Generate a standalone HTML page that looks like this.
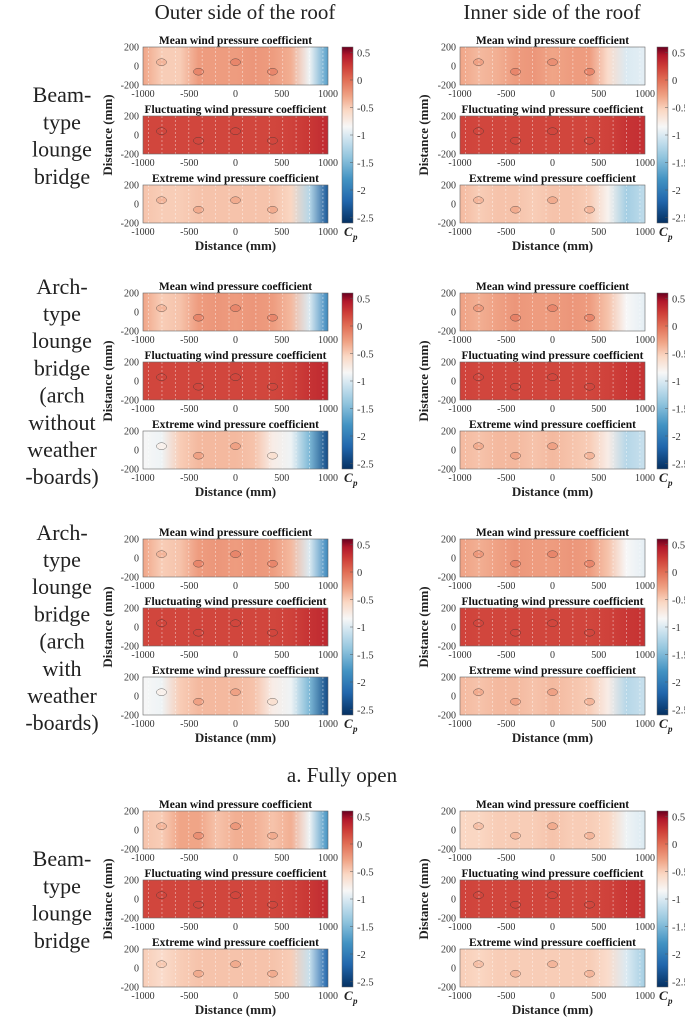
<!DOCTYPE html>
<html><head><meta charset="utf-8">
<style>
html,body{margin:0;padding:0;background:#fff;}
body{width:685px;height:1020px;overflow:hidden;position:relative;font-family:"Liberation Serif",serif;}
svg{position:absolute;left:0;top:0;}
</style></head>
<body>
<svg id="fig" width="685" height="1020" viewBox="0 0 685 1020" xmlns="http://www.w3.org/2000/svg"></svg>
<script>
// ---- data ----
const xTicks = [-1000,-500,0,500,1000];
const yTicks = [200,0,-200];
const cbTicks = [0.5,0,-0.5,-1,-1.5,-2,-2.5];
const sampleX = [-1000,-800,-600,-400,-200,0,200,400,600,800,1000];
const groupLabels = [
 ["Beam-","type","lounge","bridge"],
 ["Arch-","type","lounge","bridge","(arch","without","weather","-boards)"],
 ["Arch-","type","lounge","bridge","(arch","with","weather","-boards)"],
 ["Beam-","type","lounge","bridge"]
];
// outer side values
const g1OuterMean = [-0.3,-0.5,-0.5,-0.25,-0.25,-0.25,-0.22,-0.25,-0.35,-0.9,-1.7];
const g1OuterFluct = [0.2,0.2,0.2,0.2,0.2,0.2,0.2,0.2,0.22,0.28,0.35];
const g1OuterExt = [-0.45,-0.5,-0.5,-0.45,-0.45,-0.45,-0.45,-0.45,-0.55,-1.2,-2.3];
const g2OuterMean = [-0.3,-0.5,-0.45,-0.25,-0.22,-0.25,-0.22,-0.25,-0.4,-1.0,-1.9];
const g2OuterFluct = [0.2,0.2,0.2,0.2,0.2,0.2,0.2,0.2,0.22,0.3,0.36];
const g2OuterExt = [-0.85,-0.9,-0.5,-0.4,-0.4,-0.4,-0.45,-0.75,-0.9,-1.5,-2.4];
const g3OuterMean = [-0.3,-0.5,-0.45,-0.25,-0.22,-0.25,-0.22,-0.25,-0.4,-1.0,-1.9];
const g3OuterFluct = [0.2,0.2,0.2,0.2,0.2,0.2,0.2,0.2,0.22,0.3,0.36];
const g3OuterExt = [-0.85,-0.9,-0.5,-0.4,-0.4,-0.4,-0.45,-0.75,-0.9,-1.5,-2.4];
const g4OuterMean = [-0.45,-0.5,-0.3,-0.3,-0.45,-0.35,-0.35,-0.45,-0.35,-0.9,-1.8];
const g4OuterFluct = [0.2,0.2,0.2,0.2,0.2,0.2,0.2,0.2,0.22,0.28,0.35];
const g4OuterExt = [-0.5,-0.6,-0.5,-0.45,-0.45,-0.45,-0.45,-0.45,-0.5,-1.1,-2.2];
// inner side values
const g1InnerMean = [-0.3,-0.4,-0.35,-0.25,-0.22,-0.3,-0.25,-0.25,-0.6,-1.0,-0.95];
const g1InnerFluct = [0.22,0.2,0.2,0.2,0.2,0.2,0.2,0.2,0.22,0.3,0.32];
const g1InnerExt = [-0.4,-0.5,-0.45,-0.45,-0.5,-0.45,-0.45,-0.5,-0.8,-1.3,-1.15];
const g2InnerMean = [-0.28,-0.35,-0.28,-0.22,-0.25,-0.25,-0.22,-0.25,-0.45,-0.85,-0.95];
const g2InnerFluct = [0.22,0.2,0.2,0.2,0.2,0.2,0.2,0.2,0.22,0.28,0.3];
const g2InnerExt = [-0.4,-0.45,-0.4,-0.4,-0.45,-0.4,-0.45,-0.5,-0.75,-1.2,-1.1];
const g3InnerMean = [-0.28,-0.35,-0.28,-0.22,-0.25,-0.25,-0.22,-0.25,-0.45,-0.85,-0.95];
const g3InnerFluct = [0.22,0.2,0.2,0.2,0.2,0.2,0.2,0.2,0.22,0.28,0.3];
const g3InnerExt = [-0.4,-0.45,-0.4,-0.4,-0.45,-0.4,-0.45,-0.5,-0.75,-1.2,-1.1];
const g4InnerMean = [-0.55,-0.55,-0.5,-0.5,-0.5,-0.45,-0.5,-0.5,-0.55,-0.9,-1.0];
const g4InnerFluct = [0.22,0.2,0.2,0.2,0.2,0.2,0.2,0.2,0.22,0.28,0.3];
const g4InnerExt = [-0.5,-0.55,-0.5,-0.5,-0.5,-0.5,-0.5,-0.5,-0.6,-1.0,-1.3];

const outerSets = [[g1OuterMean,g1OuterFluct,g1OuterExt],[g2OuterMean,g2OuterFluct,g2OuterExt],[g3OuterMean,g3OuterFluct,g3OuterExt],[g4OuterMean,g4OuterFluct,g4OuterExt]];
const innerSets = [[g1InnerMean,g1InnerFluct,g1InnerExt],[g2InnerMean,g2InnerFluct,g2InnerExt],[g3InnerMean,g3InnerFluct,g3InnerExt],[g4InnerMean,g4InnerFluct,g4InnerExt]];
const panelTitles = ["Mean wind pressure coefficient","Fluctuating wind pressure coefficient","Extreme wind pressure coefficient"];

// ---- colour map (RdBu reversed) ----
const cmin=-2.6, cmax=0.6;
const cstops=[[-2.6,[5,48,97]],[-2.2,[33,102,172]],[-1.8,[67,147,195]],[-1.4,[146,197,222]],[-1.05,[209,229,240]],[-0.85,[247,247,247]],[-0.55,[250,215,195]],[-0.3,[240,165,135]],[0.0,[225,110,85]],[0.25,[205,60,55]],[0.45,[178,24,43]],[0.6,[103,0,31]]];
function cmap(v){
  v=Math.max(cmin,Math.min(cmax,v));
  for(let i=0;i<cstops.length-1;i++){
    const a=cstops[i],b=cstops[i+1];
    if(v>=a[0]&&v<=b[0]){const t=(v-a[0])/(b[0]-a[0]);
      const c=a[1].map((x,k)=>Math.round(x+(b[1][k]-x)*t));return `rgb(${c[0]},${c[1]},${c[2]})`;}
  }
  return 'rgb(103,0,31)';
}

const NS="http://www.w3.org/2000/svg";
const svg=document.getElementById('fig');
const defs=document.createElementNS(NS,'defs');svg.appendChild(defs);
function el(tag,attrs,parent){const e=document.createElementNS(NS,tag);for(const k in attrs)e.setAttribute(k,attrs[k]);(parent||svg).appendChild(e);return e;}
function txt(s,attrs,parent){const e=el('text',attrs,parent);e.textContent=s;return e;}
let gid=0;

const groupTops=[47,293,539,811];
const sides=[{x0:143,x1:328,cb:342,yl:112,sets:outerSets,name:'outer'},{x0:460,x1:645,cb:657,yl:428,sets:innerSets,name:'inner'}];
const panelOffs=[0,69,138], ph=38;

const h1=txt("Outer side of the roof",{x:245,y:19,'font-size':21,'text-anchor':'middle',fill:'#222'});


const h2=txt("Inner side of the roof",{x:552,y:19,'font-size':21,'text-anchor':'middle',fill:'#222'});


const cap=txt("a.   Fully open",{x:342,y:782,'font-size':21,'text-anchor':'middle',fill:'#222'});



groupTops.forEach((gt,gi)=>{
  const lines=groupLabels[gi];
  const lineH=27.2;
  const mid=gt+88;
  const start=mid-(lines.length-1)*lineH/2;
  const rl=el('g',{});
  
  
  lines.forEach((s,li)=>txt(s,{x:62,y:start+li*lineH+8,'font-size':22,'text-anchor':'middle',fill:'#222'},rl));

  sides.forEach(sd=>{
    const xs=v=>sd.x0+(v+1000)/2000*(sd.x1-sd.x0);
    panelOffs.forEach((po,pi)=>{
      const top=gt+po;
      const ys=v=>top+(200-v)/400*ph;
      const g=el('g',{});
      
      
      const id='gr'+(gid++);
      const lg=el('linearGradient',{id:id,x1:'0',x2:'1',y1:'0',y2:'0'},defs);
      const vals=sd.sets[gi][pi];
      vals.forEach((v,i)=>el('stop',{offset:((sampleX[i]+1000)/2000).toFixed(3),'stop-color':cmap(v)},lg));
      const r=el('rect',{x:xs(-1000),y:ys(200),width:xs(1000)-xs(-1000),height:ys(-200)-ys(200),fill:`url(#${id})`},g);
      
      
      // small contour islands at sample points
      vals.forEach((v,i)=>{
        if(i%2===1&&i<9){
          el('ellipse',{cx:xs(sampleX[i]),cy:ys(i%4===1?40:-60),rx:5,ry:3.5,fill:cmap(v+(pi===1?0:0.12)),stroke:'#333','stroke-width':0.5,'stroke-opacity':0.7},g);
        }
      });
      for(let k=0;k<14;k++){
        const xv=-940+k*145;
        el('line',{x1:xs(xv),x2:xs(xv),y1:ys(200),y2:ys(-200),stroke:'#fff','stroke-opacity':0.5,'stroke-width':0.8,'stroke-dasharray':'2,2'},g);
      }
      el('rect',{x:xs(-1000),y:ys(200),width:xs(1000)-xs(-1000),height:ys(-200)-ys(200),fill:'none',stroke:'#666','stroke-width':0.6},g);
      txt(panelTitles[pi],{x:(sd.x0+sd.x1)/2,y:top-3,'font-size':11.5,'font-weight':'bold','text-anchor':'middle',fill:'#111'},g);
      yTicks.forEach(t=>txt(String(t),{x:sd.x0-4,y:ys(t)+3.5,'font-size':10,'text-anchor':'end',fill:'#333'},g));
      xTicks.forEach(t=>txt(String(t),{x:xs(t),y:top+ph+12,'font-size':10,'text-anchor':'middle',fill:'#333'},g));
    });
    const yl=txt("Distance (mm)",{x:sd.yl,y:gt+88,'font-size':13,'font-weight':'bold','text-anchor':'middle',fill:'#222',transform:`rotate(-90 ${sd.yl} ${gt+88})`});
    
    
    const xl=txt("Distance (mm)",{x:(sd.x0+sd.x1)/2,y:gt+203,'font-size':13,'font-weight':'bold','text-anchor':'middle',fill:'#222'});
    
    
    const cb=el('g',{});
    
    
    const cbTop=gt, cbBot=gt+176;
    const cy=v=>cbTop+(cmax-v)/(cmax-cmin)*(cbBot-cbTop);
    const cid='cb'+(gid++);
    const cg=el('linearGradient',{id:cid,x1:'0',x2:'0',y1:'1',y2:'0'},defs);
    cstops.forEach(s=>el('stop',{offset:((s[0]-cmin)/(cmax-cmin)).toFixed(3),'stop-color':`rgb(${s[1].join(',')})`},cg));
    el('rect',{x:sd.cb,y:cbTop,width:11,height:cbBot-cbTop,fill:`url(#${cid})`,stroke:'#666','stroke-width':0.5},cb);
    cbTicks.forEach(t=>{
      el('line',{x1:sd.cb+8,x2:sd.cb+11,y1:cy(t),y2:cy(t),stroke:'#555','stroke-width':0.5},cb);
      txt(String(t),{x:sd.cb+15,y:cy(t)+4,'font-size':10.5,fill:'#333'},cb);
    });
    txt("C",{x:sd.cb+2,y:cbBot+13,'font-size':13,'font-weight':'bold','font-style':'italic',fill:'#222'},cb);
    txt("p",{x:sd.cb+11,y:cbBot+17,'font-size':9,'font-weight':'bold','font-style':'italic',fill:'#222'},cb);
  });
});
</script>
</body></html>
